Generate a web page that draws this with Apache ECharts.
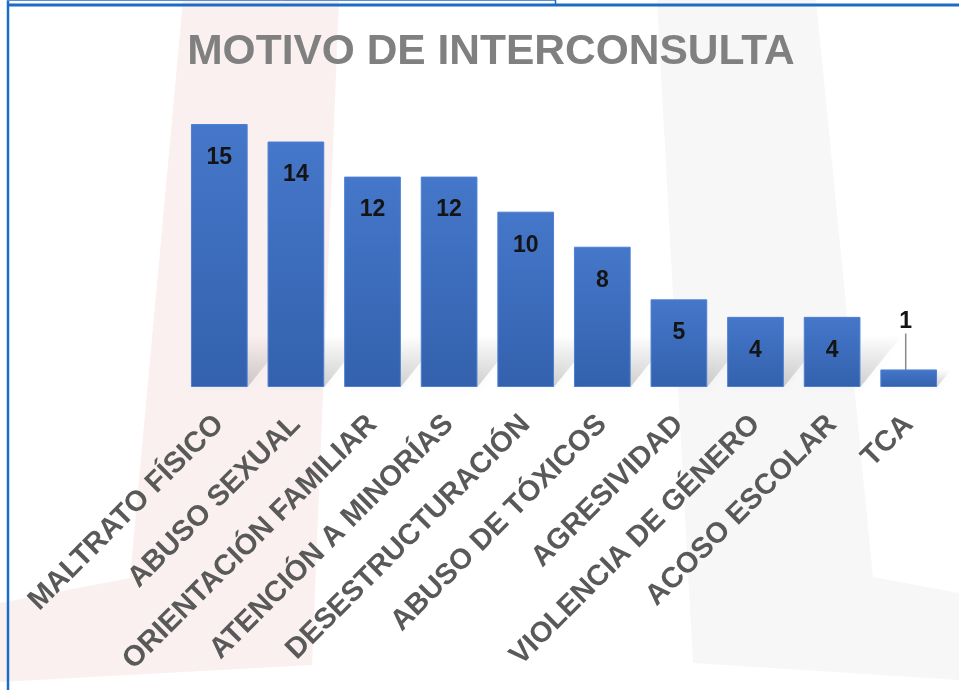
<!DOCTYPE html>
<html><head><meta charset="utf-8">
<script src="https://cdn.jsdelivr.net/npm/echarts@6/dist/echarts.min.js"></script>
<style>html,body{margin:0;padding:0;background:#fff}#c{width:959px;height:690px}</style>
</head><body><div id="c"></div>
<script>
const chartTitle = 'MOTIVO DE INTERCONSULTA';
const categories = ['MALTRATO FÍSICO','ABUSO SEXUAL','ORIENTACIÓN FAMILIAR','ATENCIÓN A MINORÍAS','DESESTRUCTURACIÓN','ABUSO DE TÓXICOS','AGRESIVIDAD','VIOLENCIA DE GÉNERO','ACOSO ESCOLAR','TCA'];
const values = [15,14,12,12,10,8,5,4,4,1];

const chart = echarts.init(document.getElementById('c'), null, {renderer:'canvas'});
const barData = values.map((v,i) => i === values.length - 1
  ? {value: v, label: {position: 'top', distance: 6}}
  : v);

const option = {
  backgroundColor: '#ffffff',
  animation: false,
  title: {
    text: chartTitle, top: 26,
    left: 486, textAlign: 'center',
    textStyle: {fontFamily: 'Liberation Sans, Arial', fontWeight: 'bold', fontSize: 42.5, color: '#808080'}
  },
  graphic: [
    {type: 'polygon', z: -10, silent: true,
     shape: {points: [[183,0],[339,0],[312,665],[0,682],[0,603],[130,578]]},
     style: {fill: '#fbf0f0'}},
    {type: 'polygon', z: -10, silent: true,
     shape: {points: [[657,0],[816,0],[873,577],[959,593],[959,680],[693,663]]},
     style: {fill: '#f7f7f7'}},
    {type: 'line', z: 100, silent: true, shape: {x1: 8, y1: 0, x2: 8, y2: 690}, style: {stroke: '#1a6cc4', lineWidth: 2.5}},
    {type: 'line', z: 100, silent: true, shape: {x1: 7, y1: 5, x2: 959, y2: 5}, style: {stroke: '#1a6cc4', lineWidth: 3}},
    {type: 'line', z: 100, silent: true, shape: {x1: 7, y1: 0.5, x2: 556, y2: 0.5}, style: {stroke: '#5a8fd6', lineWidth: 1}},
    {type: 'line', z: 100, silent: true, shape: {x1: 555.5, y1: 0, x2: 555.5, y2: 5}, style: {stroke: '#1a6cc4', lineWidth: 1.5}}
  ],
  grid: {left: 181, right: 12, top: 124, bottom: 303, containLabel: false},
  xAxis: {
    type: 'category', data: categories,
    axisLine: {show: false}, axisTick: {show: false},
    axisLabel: {
      interval: 0, rotate: 45, margin: 33,
      fontFamily: 'Liberation Sans, Arial', fontWeight: 'bold', fontSize: 29, color: '#595959'
    }
  },
  yAxis: {type: 'value', min: 0, max: 15, show: false, splitLine: {show: false}},
  series: [
    {
      type: 'custom', z: 1, silent: true,
      data: values,
      renderItem: function (params, api) {
        const i = params.dataIndex;
        const v = api.value(1);
        const base = api.coord([i, 0]);
        const top = api.coord([i, v]);
        const bw = api.size([1, 0])[0] * 0.74;
        const h = Math.min(base[1] - top[1], 52);
        const s = h * 0.8;
        const x0 = base[0] - bw / 2, x1 = base[0] + bw / 2, y0 = base[1];
        return {
          type: 'polygon',
          shape: {points: [[x0, y0], [x1, y0], [x1 + s, y0 - h], [x0 + s, y0 - h]]},
          style: {
            fill: new echarts.graphic.LinearGradient(0, 0, 0, 1, [
              {offset: 0, color: 'rgba(120,120,120,0)'},
              {offset: 1, color: 'rgba(110,110,110,0.3)'}
            ]),
            shadowBlur: 8, shadowColor: 'rgba(110,110,110,0.2)'
          }
        };
      }
    },
    {
      type: 'bar', z: 3,
      data: barData,
      barCategoryGap: '26%',
      itemStyle: {
        color: new echarts.graphic.LinearGradient(0, 0, 0, 1, [
          {offset: 0, color: '#4577ca'},
          {offset: 1, color: '#3361ad'}
        ]),
        borderColor: '#4c7fd4', borderWidth: 1
      },
      label: {
        show: true, position: 'insideTop', distance: 22,
        fontFamily: 'Liberation Sans, Arial', fontWeight: 'bold', fontSize: 23, color: '#141414'
      },
      labelLayout: function (p) {
        return p.dataIndex === values.length - 1 ? {dy: -30, dx: -3} : {};
      },
      labelLine: {show: true, lineStyle: {color: '#8a8a8a', width: 1.5}}
    }
  ]
};
chart.setOption(option);
</script>
</body></html>
